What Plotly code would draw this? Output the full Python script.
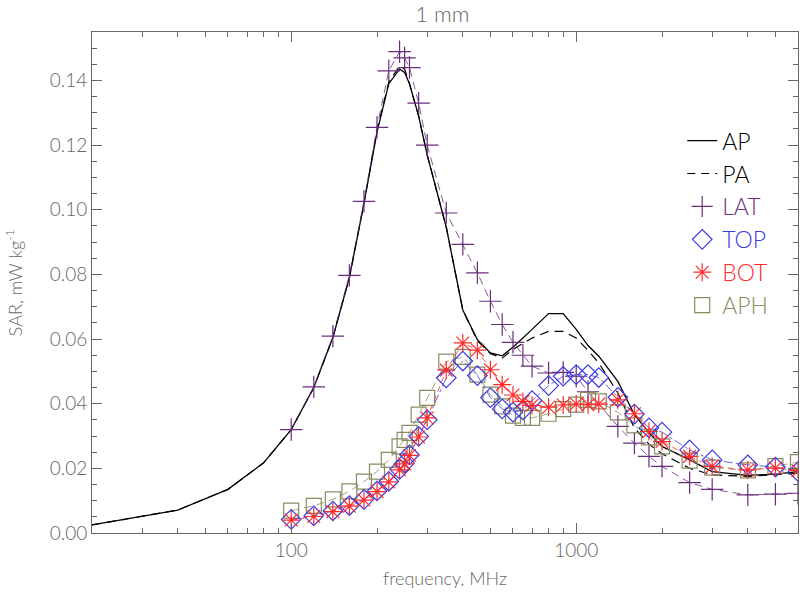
import plotly.graph_objects as go

# ---- data ----
freq_ap = [20, 40, 60, 80, 100, 120, 140, 160, 180, 200, 220, 240, 250, 260, 280, 300, 350,
           400, 450, 500, 550, 600, 700, 800, 900, 1000, 1100, 1200, 1400, 1600, 1800, 2000,
           2500, 3000, 4000, 5000, 6000]
sar_ap = [0.0025, 0.0071, 0.0135, 0.0217, 0.032, 0.045, 0.0605, 0.079, 0.102, 0.124, 0.139,
          0.1435, 0.1425, 0.139, 0.129, 0.117, 0.0946, 0.069, 0.0598, 0.0557, 0.0548, 0.0575,
          0.063, 0.0679, 0.0679, 0.063, 0.058, 0.0547, 0.0469, 0.0366, 0.031, 0.0268, 0.0226,
          0.019, 0.0178, 0.0182, 0.019]
sar_pa = [0.0025, 0.0071, 0.0135, 0.0217, 0.032, 0.045, 0.0605, 0.079, 0.102, 0.1245, 0.1395,
          0.1445, 0.1435, 0.139, 0.129, 0.117, 0.0946, 0.069, 0.0595, 0.0555, 0.0541, 0.0568,
          0.0603, 0.0624, 0.0624, 0.0603, 0.0565, 0.0526, 0.0433, 0.0325, 0.0275, 0.0245, 0.02,
          0.018, 0.0175, 0.018, 0.0185]

freq_lat = [100, 120, 140, 160, 180, 200, 220, 240, 250, 260, 280, 300, 350, 400, 450, 500,
            550, 600, 650, 700, 800, 900, 1000, 1100, 1400, 1600, 1800, 2000, 2500, 3000,
            4000, 5000, 6000]
sar_lat = [0.032, 0.0452, 0.0609, 0.0797, 0.1026, 0.1255, 0.143, 0.1489, 0.147, 0.144, 0.133,
           0.12, 0.099, 0.0893, 0.0805, 0.0717, 0.0645, 0.059, 0.055, 0.0516, 0.0495, 0.0497,
           0.0485, 0.0437, 0.033, 0.0278, 0.0237, 0.0206, 0.0156, 0.0135, 0.0118, 0.012, 0.0123]

freq_b = [100, 120, 140, 160, 180, 200, 220, 240, 250, 260, 280, 300, 350, 400, 450, 500, 550,
          600, 650, 700, 800, 900, 1000, 1100, 1200, 1400, 1600, 1800, 2000, 2500, 3000, 4000,
          5000, 6000]
sar_top = [0.0042, 0.0053, 0.0068, 0.0085, 0.0104, 0.013, 0.016, 0.0197, 0.0216, 0.0242,
           0.0299, 0.035, 0.048, 0.0532, 0.0487, 0.0419, 0.0384, 0.0374, 0.038, 0.041, 0.0456,
           0.0485, 0.049, 0.049, 0.0481, 0.042, 0.0368, 0.0325, 0.0312, 0.0257, 0.0226, 0.0211,
           0.0204, 0.019]
sar_bot = [0.0040, 0.0051, 0.0066, 0.0083, 0.0102, 0.0128, 0.0158, 0.0195, 0.0214, 0.024,
           0.0297, 0.0356, 0.0504, 0.0588, 0.0566, 0.0505, 0.0459, 0.0427, 0.0407, 0.0395,
           0.0389, 0.0396, 0.0399, 0.0397, 0.0399, 0.0412, 0.0369, 0.0314, 0.0283, 0.0237,
           0.0206, 0.0195, 0.0201, 0.0193]
sar_aph = [0.0069, 0.0084, 0.0104, 0.0129, 0.0159, 0.019, 0.0226, 0.0268, 0.0288, 0.031,
           0.0366, 0.0418, 0.053, 0.0545, 0.049, 0.0428, 0.0392, 0.0363, 0.0356, 0.0356,
           0.0369, 0.0383, 0.0397, 0.0412, 0.0407, 0.0373, 0.0333, 0.0296, 0.0268, 0.0224,
           0.0202, 0.0194, 0.0207, 0.0219]

C_LAT = "#6a2c7c"
C_TOP = "#3a3ae0"
C_BOT = "#ff2a2a"
C_APH = "#8a8a62"
GRAY = "#666666"
FONT = "Lato"

fig = go.Figure()

# data traces
fig.add_trace(go.Scatter(x=freq_ap, y=sar_ap, mode="lines", line=dict(color="black", width=1.3),
                         showlegend=False))
fig.add_trace(go.Scatter(x=freq_ap, y=sar_pa, mode="lines",
                         line=dict(color="black", width=1.2, dash="9px,6px"), showlegend=False))
fig.add_trace(go.Scatter(x=freq_lat, y=sar_lat, mode="lines+markers",
                         line=dict(color=C_LAT, width=0.8, dash="8px,5px"),
                         marker=dict(symbol="cross-thin", size=16, line=dict(color=C_LAT, width=1.2)),
                         showlegend=False))
fig.add_trace(go.Scatter(x=freq_b, y=sar_aph, mode="lines+markers",
                         line=dict(color=C_APH, width=0.8, dash="8px,5px"),
                         marker=dict(symbol="square-open", size=15, color=C_APH, line=dict(width=1.2)),
                         showlegend=False))
fig.add_trace(go.Scatter(x=freq_b, y=sar_top, mode="lines+markers",
                         line=dict(color=C_TOP, width=0.8, dash="dashdot"),
                         marker=dict(symbol="diamond-open", size=15, color=C_TOP, line=dict(width=1.2)),
                         showlegend=False))
fig.add_trace(go.Scatter(x=freq_b, y=sar_bot, mode="lines+markers",
                         line=dict(color=C_BOT, width=0.8, dash="6px,4px"),
                         marker=dict(symbol="asterisk-open", size=15, color=C_BOT, line=dict(color=C_BOT, width=1.2)),
                         showlegend=False))

# legend-only entries
def leg(name, color, **kw):
    fig.add_trace(go.Scatter(x=[None], y=[None], name=f"<span style='color:{color}'>{name}</span>", **kw))

leg("AP", "black", mode="lines", line=dict(color="black", width=1.3))
leg("PA", "black", mode="lines", line=dict(color="black", width=1.2, dash="8px,6px"))
leg("LAT", C_LAT, mode="markers", marker=dict(symbol="cross-thin", size=15, line=dict(color=C_LAT, width=1.2)))
leg("TOP", C_TOP, mode="markers", marker=dict(symbol="diamond-open", size=15, color=C_TOP, line=dict(width=1.2)))
leg("BOT", C_BOT, mode="markers", marker=dict(symbol="asterisk-open", size=15, color=C_BOT, line=dict(color=C_BOT, width=1.2)))
leg("APH", C_APH, mode="markers", marker=dict(symbol="square-open", size=15, color=C_APH, line=dict(width=1.2)))

axis_common = dict(showline=True, linecolor=GRAY, linewidth=1, mirror="allticks",
                   ticks="inside", tickcolor=GRAY, ticklen=10, tickwidth=1,
                   showgrid=False, zeroline=False, automargin=False,
                   tickfont=dict(family=FONT, size=19, color=GRAY, weight=300),
                   title_font=dict(family=FONT, size=18, color=GRAY, weight=300))

fig.update_xaxes(type="log", range=[1.30103, 3.7782], tickvals=[100, 1000],
                 ticktext=["100", "1000"], title_text="frequency, MHz", title_standoff=12,
                 minor=dict(ticks="inside", ticklen=5, tickcolor=GRAY, dtick="D1", showgrid=False),
                 **axis_common)
fig.update_yaxes(range=[0, 0.155], dtick=0.02, tickformat=".2f",
                 title_text="SAR, mW kg<sup>-1</sup>", title_standoff=22,
                 minor=dict(ticks="inside", ticklen=5, tickcolor=GRAY, dtick=0.005, showgrid=False),
                 **axis_common)

fig.update_layout(
    width=800, height=597,
    margin=dict(l=92, r=2, t=32, b=64, autoexpand=False),
    paper_bgcolor="white", plot_bgcolor="white",
    title=dict(text="1 mm", x=0.553, xanchor="center", y=0.976, yanchor="middle",
               font=dict(family=FONT, size=22, color=GRAY, weight=300)),
    legend=dict(x=0.836, y=0.826, xanchor="left", yanchor="top", bgcolor="rgba(0,0,0,0)",
                font=dict(family=FONT, size=23, weight=300), itemwidth=30, tracegroupgap=0),
    showlegend=True,
)

post = ("document.body.style.margin='0';document.body.style.overflow='hidden';"
        "var gd=document.getElementById('{plot_id}');"
        "Plotly.relayout(gd,{width:800,height:597});")

fig.write_html("out.html", post_script=post, config={"displayModeBar": False})
